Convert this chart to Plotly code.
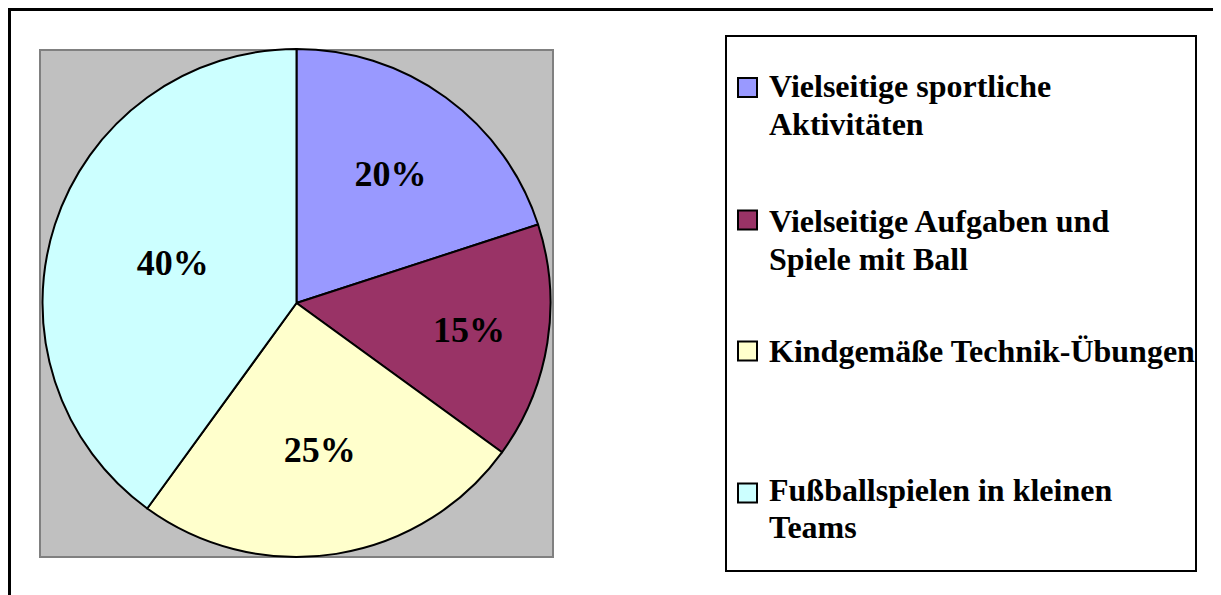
import plotly.graph_objects as go

# ---- data ----
categories = [
    "Vielseitige sportliche Aktivitäten",
    "Vielseitige Aufgaben und Spiele mit Ball",
    "Kindgemäße Technik-Übungen",
    "Fußballspielen in kleinen Teams",
]
legend_lines = [
    ["Vielseitige sportliche", "Aktivitäten"],
    ["Vielseitige Aufgaben und", "Spiele mit Ball"],
    ["Kindgemäße Technik-Übungen"],
    ["Fußballspielen in kleinen", "Teams"],
]
values = [20, 15, 25, 40]
colors = ["#9999FF", "#993366", "#FFFFCC", "#CCFFFF"]

# ---- layout helpers (page pixel -> paper), page has an 8px body margin ----
OFF = 8
W, H = 1221 - OFF, 595 - OFF
FONT = "Liberation Serif, Times New Roman, serif"


def px(x):
    return (x - OFF) / W


def py(y):
    return 1 - (y - OFF) / H


fig = go.Figure()
fig.add_trace(go.Pie(
    labels=categories,
    values=values,
    sort=False,
    direction="clockwise",
    rotation=0,
    marker=dict(colors=colors, line=dict(color="#000000", width=2)),
    texttemplate="%{percent:.0%}",
    textposition="inside",
    insidetextorientation="horizontal",
    textfont=dict(family=FONT, size=36, color="#000000", weight="bold"),
    domain=dict(x=[px(40), px(553)], y=[py(557), py(49)]),
    showlegend=False,
    hoverinfo="label+percent",
))

shapes = [
    # outer chart border
    dict(type="rect", xref="paper", yref="paper", x0=px(9.5), y0=py(9.5), x1=px(1260), y1=py(640),
         line=dict(color="#000000", width=3), fillcolor="rgba(0,0,0,0)", layer="below"),
    # plot area
    dict(type="rect", xref="paper", yref="paper", x0=px(40), y0=py(50), x1=px(553), y1=py(557),
         line=dict(color="#808080", width=2), fillcolor="#C0C0C0", layer="below"),
    # legend box
    dict(type="rect", xref="paper", yref="paper", x0=px(726), y0=py(36), x1=px(1196), y1=py(571),
         line=dict(color="#000000", width=2), fillcolor="#FFFFFF", layer="above"),
]

annotations = []
marker_centers = [87.5, 220, 351, 493]
line_centers = [[86, 124.5], [221, 259.5], [351], [490, 527]]
for i, lines in enumerate(legend_lines):
    cy = marker_centers[i]
    shapes.append(dict(type="rect", xref="paper", yref="paper",
                       x0=px(738), x1=px(757), y0=py(cy - 9.5), y1=py(cy + 9.5),
                       line=dict(color="#000000", width=2), fillcolor=colors[i], layer="above"))
    for j, txt in enumerate(lines):
        annotations.append(dict(
            xref="paper", yref="paper", x=px(767), y=py(line_centers[i][j]),
            xanchor="left", yanchor="middle", showarrow=False, text=txt,
            font=dict(family=FONT, size=32, color="#000000", weight="bold"),
        ))

fig.update_layout(
    width=W, height=H,
    margin=dict(l=0, r=0, t=0, b=0),
    paper_bgcolor="#FFFFFF",
    plot_bgcolor="#FFFFFF",
    shapes=shapes,
    annotations=annotations,
    showlegend=False,
)

fig.write_html("out.html")
